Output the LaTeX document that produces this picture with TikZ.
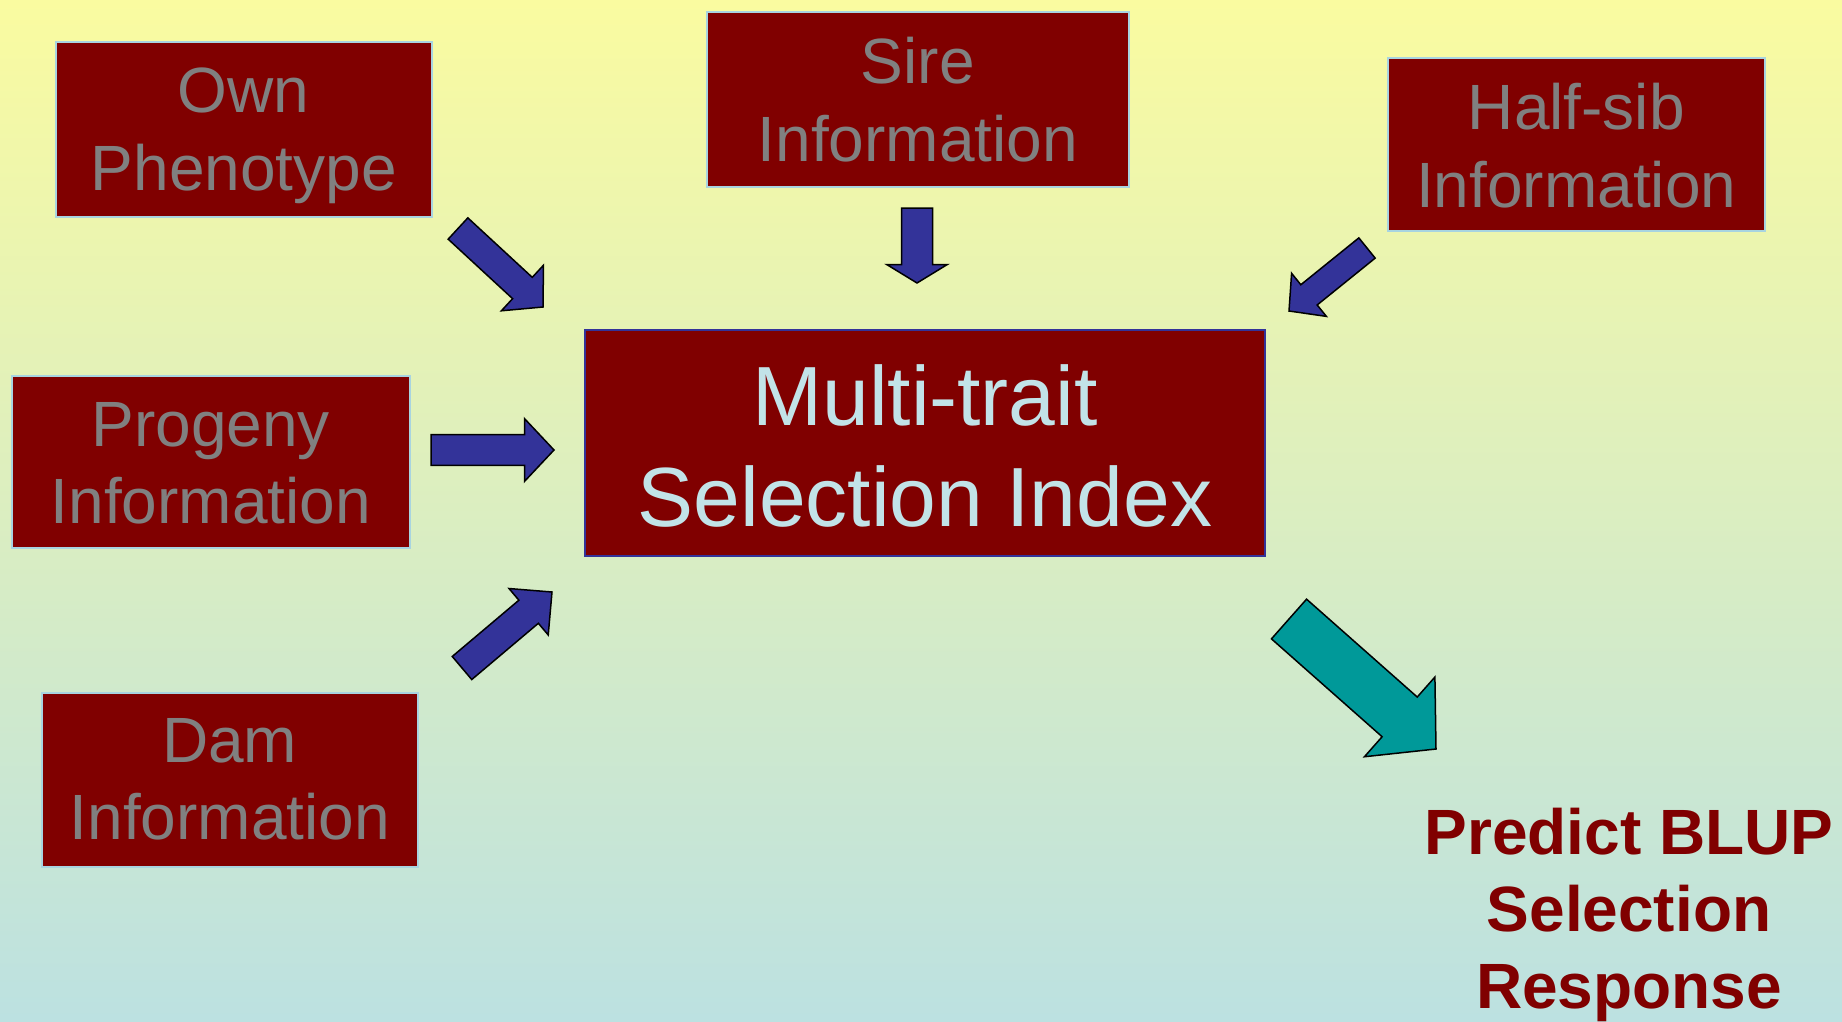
\documentclass[tikz,border=0pt]{standalone}
\usepackage{fontspec}
\setmainfont{Liberation Sans}
\usetikzlibrary{calc}

\definecolor{maroonbox}{HTML}{800000}
\definecolor{greytext}{HTML}{808080}
\definecolor{paletext}{HTML}{C2E3E8}
\definecolor{arrowblue}{HTML}{333399}
\definecolor{arrowteal}{HTML}{009999}
\definecolor{bgtop}{HTML}{FAFBA0}
\definecolor{bgbottom}{HTML}{BCE1E1}
\definecolor{boxedge}{HTML}{A8D4E0}

% Block arrow: #1 style, #2 tail coordinate, #3 tip coordinate,
% #4 half shaft width, #5 half head width, #6 head length
\newcommand{\blockarrow}[6]{%
  \coordinate (ba-neck) at ($(#3)!#6!(#2)$);
  \draw[#1] ($(#2)!#4!90:(#3)$) -- ($(ba-neck)!#4!-90:(#2)$)
    -- ($(ba-neck)!#5!-90:(#2)$) -- (#3)
    -- ($(ba-neck)!#5!90:(#2)$) -- ($(ba-neck)!#4!90:(#2)$)
    -- ($(#2)!#4!-90:(#3)$) -- cycle;}

\begin{document}
\begin{tikzpicture}[x=1pt,y=-1pt,
  infobox/.style={draw=boxedge, line width=1.5pt, fill=maroonbox,
    anchor=north west, inner sep=0pt},
  indexbox/.style={draw=arrowblue, line width=2pt, fill=maroonbox,
    anchor=north west, inner sep=0pt},
  boxtext/.style={text=greytext, font=\fontsize{64}{77.5}\selectfont,
    align=center, inner sep=0pt, anchor=north},
  indextext/.style={text=paletext, font=\fontsize{84}{101.7}\selectfont,
    align=center, inner sep=0pt, anchor=north},
  resulttext/.style={text=maroonbox, font=\bfseries\fontsize{64}{77}\selectfont,
    align=center, inner sep=0pt, anchor=north},
  inarrow/.style={fill=arrowblue, draw=black, line width=1.5pt, line join=miter},
  outarrow/.style={fill=arrowteal, draw=black, line width=1.5pt, line join=miter}]

% background
\shade[top color=bgtop, bottom color=bgbottom] (0,0) rectangle (1842,1021);
\useasboundingbox (0,0) rectangle (1842,1021);

% information sources
\node[infobox, minimum width=376pt, minimum height=175pt] (own) at (55,41) {};
\node[boxtext] (own-t) at ([yshift=-27pt]own.north) {Own\\Phenotype};

\node[infobox, minimum width=422pt, minimum height=175pt] (sire) at (706,11) {};
\node[boxtext] (sire-t) at ([yshift=-26pt]sire.north) {Sire\\Information};

\node[infobox, minimum width=377pt, minimum height=173pt] (halfsib) at (1387,57) {};
\node[boxtext] (halfsib-t) at ([yshift=-26pt]halfsib.north) {Half-sib\\Information};

\node[infobox, minimum width=398pt, minimum height=172pt] (progeny) at (11,375) {};
\node[boxtext] (progeny-t) at ([yshift=-27pt]progeny.north) {Progeny\\Information};

\node[infobox, minimum width=376pt, minimum height=174pt] (dam) at (41,692) {};
\node[boxtext] (dam-t) at ([yshift=-26pt]dam.north) {Dam\\Information};

% the index
\node[indexbox, minimum width=680pt, minimum height=226pt] (index) at (584,329) {};
\node[indextext] (index-t) at ([yshift=-35pt]index.north) {Multi-trait\\Selection Index};

% outcome
\node[resulttext] (blup) at (1629,808) {Predict BLUP\\Selection\\Response};

% arrow end points
\coordinate (own-out) at (458,228.5);
\coordinate (own-in) at (543,307);
\coordinate (sire-out) at (917,208);
\coordinate (sire-in) at (917,283);
\coordinate (halfsib-out) at (1367,248);
\coordinate (halfsib-in) at (1289,311);
\coordinate (progeny-out) at (431,450);
\coordinate (progeny-in) at (554,450);
\coordinate (dam-out) at (462,668);
\coordinate (dam-in) at (552,592);
\coordinate (index-out) at (1289,619);
\coordinate (blup-in) at (1436,749);

% arrows
\blockarrow{inarrow}{own-out}{own-in}{14.5pt}{31pt}{28pt}
\blockarrow{inarrow}{sire-out}{sire-in}{15.5pt}{30.3pt}{18.5pt}
\blockarrow{inarrow}{halfsib-out}{halfsib-in}{13pt}{27.7pt}{25.7pt}
\blockarrow{inarrow}{progeny-out}{progeny-in}{15.4pt}{31.4pt}{29.5pt}
\blockarrow{inarrow}{dam-out}{dam-in}{15.1pt}{30.4pt}{30.6pt}
\blockarrow{outarrow}{index-out}{blup-in}{26.5pt}{53.2pt}{48.5pt}
\end{tikzpicture}
\end{document}
